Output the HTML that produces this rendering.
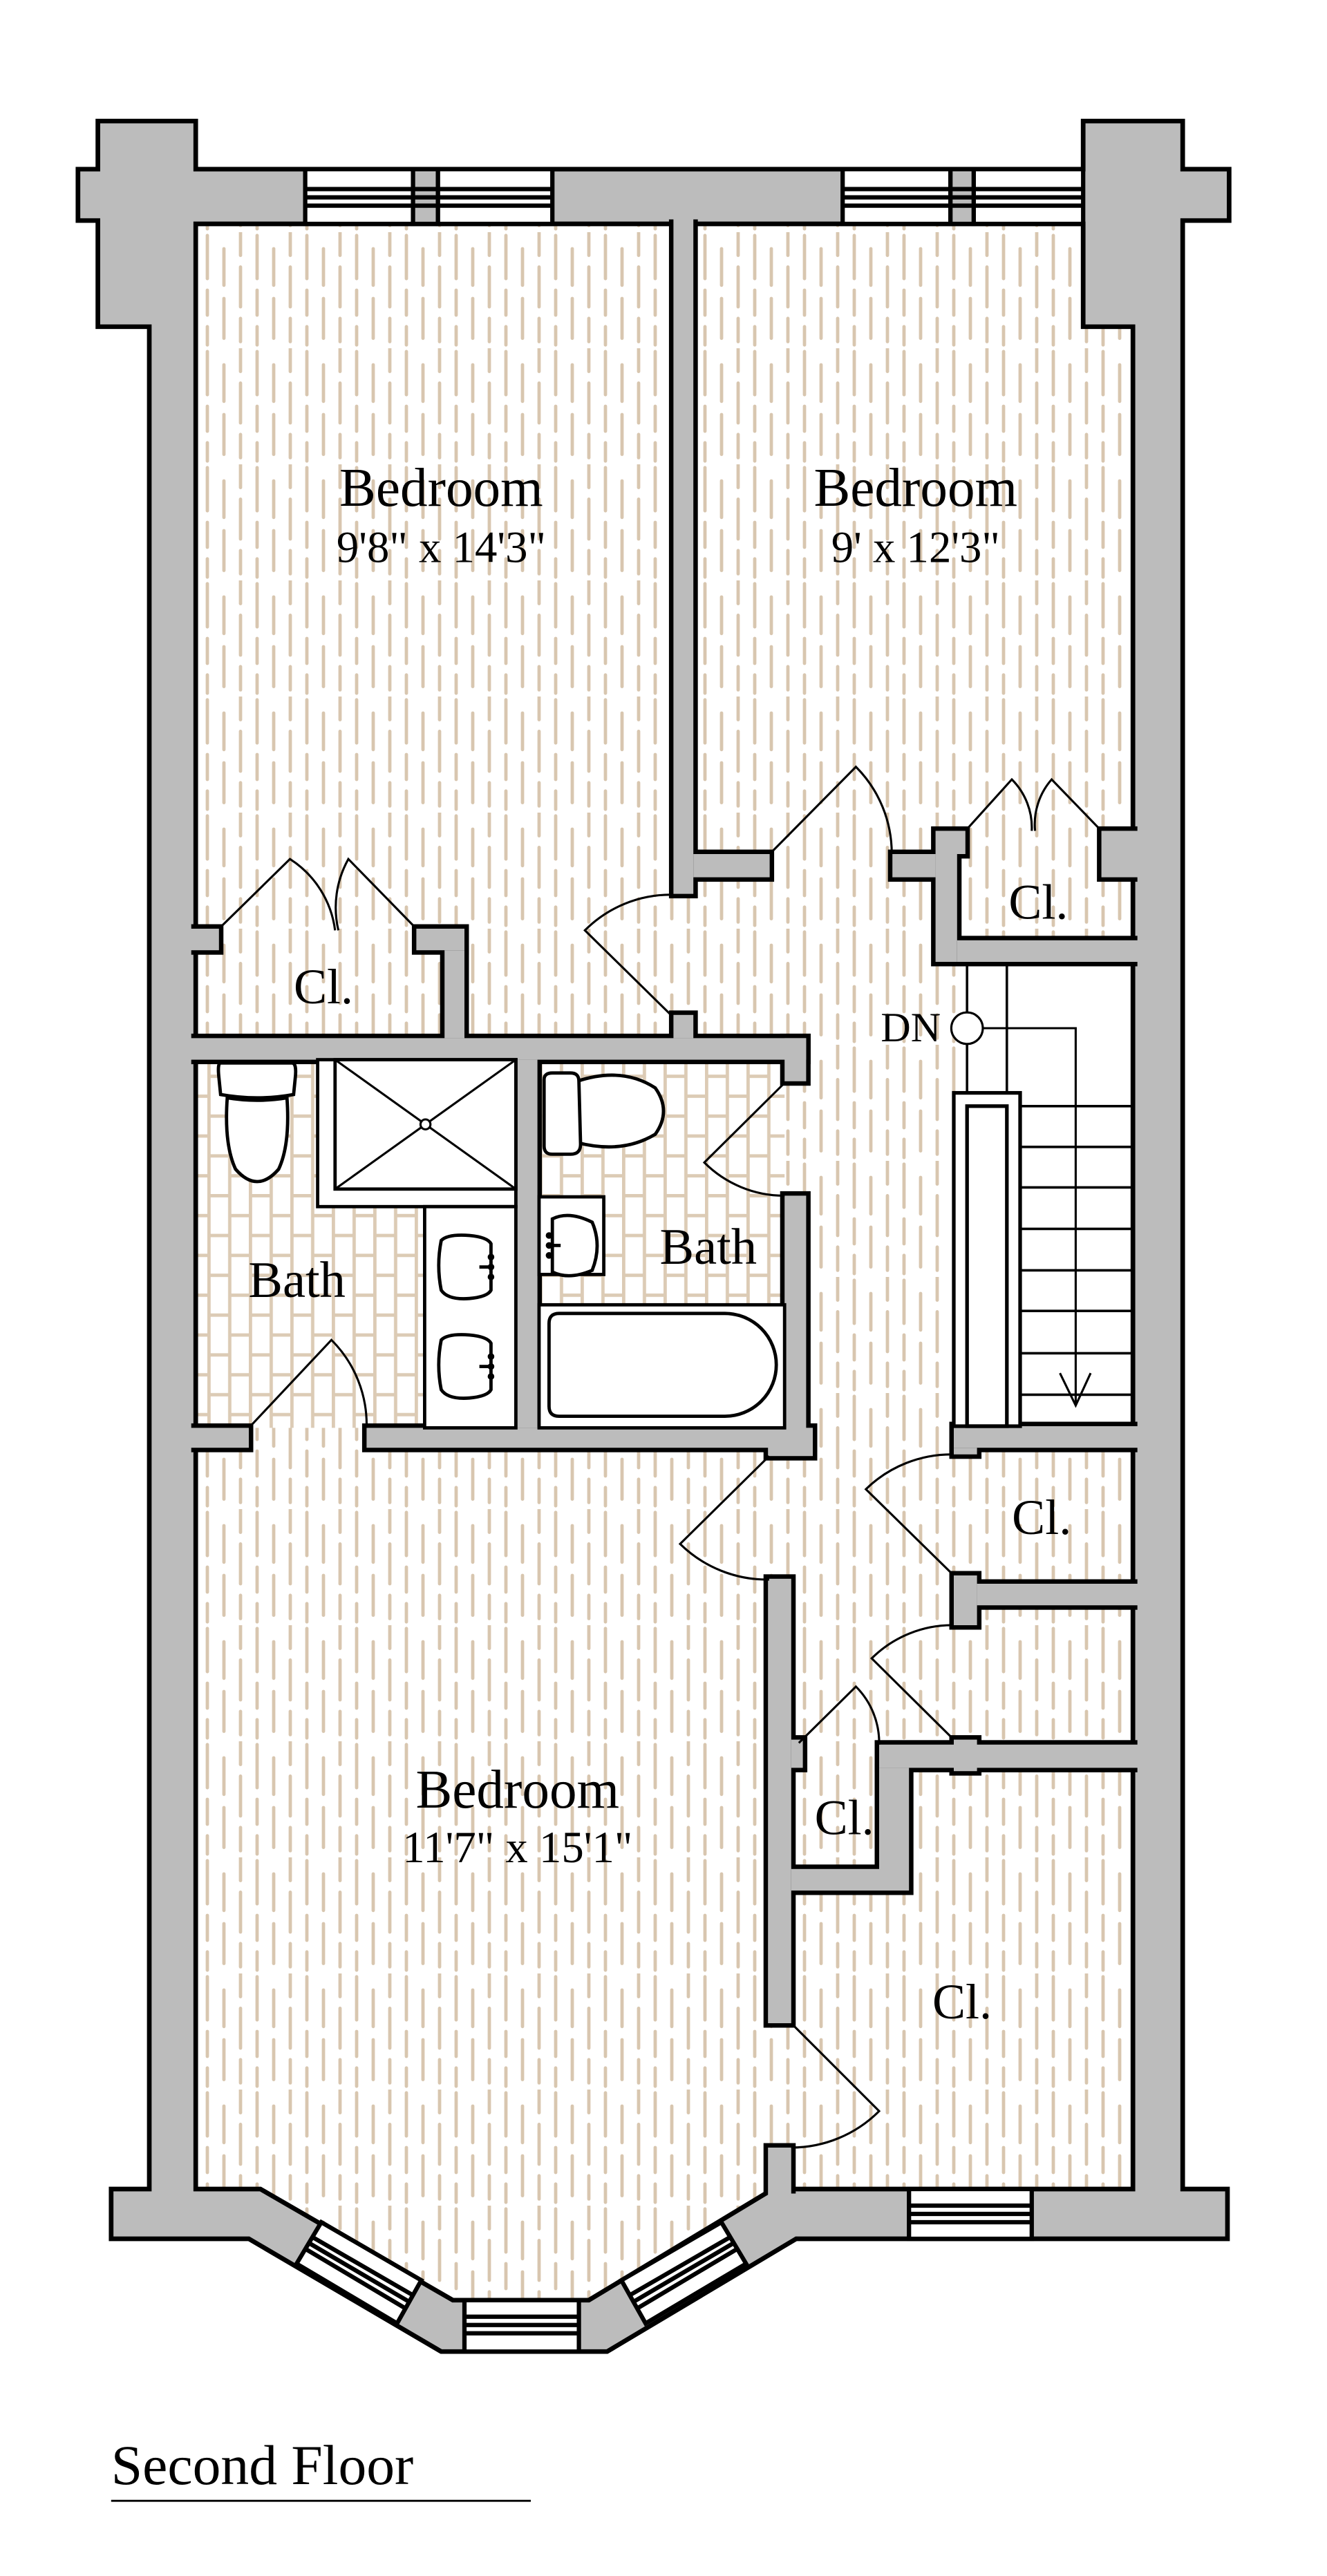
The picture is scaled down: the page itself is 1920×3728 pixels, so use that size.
<!DOCTYPE html>
<html><head><meta charset="utf-8"><style>
html,body{margin:0;padding:0;background:#fff;}
svg{display:block;}
text{font-family:"Liberation Serif",serif;fill:#000;}
</style></head><body>
<svg width="1920" height="3728" viewBox="0 0 800 1553.333" xmlns="http://www.w3.org/2000/svg">
<defs>
<pattern id="fl" width="30" height="70" patternUnits="userSpaceOnUse">
<rect width="30" height="70" fill="#fff"/>
<g stroke="#d8c6af" stroke-width="2" stroke-linecap="round">
<line x1="5" y1="2" x2="5" y2="28"/><line x1="5" y1="35" x2="5" y2="50"/><line x1="5" y1="57" x2="5" y2="68"/>
<line x1="15" y1="10" x2="15" y2="32"/><line x1="15" y1="40" x2="15" y2="64"/>
<line x1="25" y1="0" x2="25" y2="14"/><line x1="25" y1="21" x2="25" y2="45"/><line x1="25" y1="52" x2="25" y2="66"/>
</g></pattern>
<pattern id="tl" width="25" height="48" patternUnits="userSpaceOnUse">
<rect width="25" height="48" fill="#fff"/>
<g stroke="#dccbb5" stroke-width="2">
<line x1="1" y1="0" x2="1" y2="48"/><line x1="13.5" y1="0" x2="13.5" y2="48"/>
<line x1="1" y1="1" x2="13.5" y2="1"/><line x1="1" y1="25" x2="13.5" y2="25"/>
<line x1="13.5" y1="13" x2="26" y2="13"/><line x1="13.5" y1="37" x2="26" y2="37"/>
</g></pattern>
</defs>

<polygon points="59,73 118,73 118,102 653,102 653,73 713,73 713,102 741,102 741,133 713,133 713,1320 740,1320 740,1350 480,1350 366,1418 266,1418 150,1350 67,1350 67,1320 90,1320 90,197 59,197 59,133 47,133 47,102 59,102" fill="#bcbcbc" stroke="#000" stroke-width="2.8" stroke-linejoin="miter"/>
<polygon points="118,135 653,135 653,197 683,197 683,1320 466,1320 355,1387 273,1387 157,1320 118,1320" fill="url(#fl)"/>
<rect x="118" y="639" width="193" height="222" fill="url(#tl)"/>
<rect x="324" y="639" width="149" height="222" fill="url(#tl)"/>
<rect x="583" y="580" width="100" height="280" fill="#fff"/>
<polygon points="118,135 653,135 653,197 683,197 683,1320 466,1320 355,1387 273,1387 157,1320 118,1320" fill="none" stroke="#000" stroke-width="2.8"/>

<g stroke="#000" stroke-width="5.4" fill="none">
<rect x="406" y="135" width="12" height="404"/>
<rect x="418" y="515" width="46" height="14"/>
<rect x="406" y="612" width="12" height="14"/>
<rect x="118" y="626" width="368" height="13"/>
<rect x="473" y="626" width="13" height="26"/>
<rect x="311" y="639" width="13" height="222"/>
<rect x="473" y="721" width="13" height="152"/>
<rect x="118" y="861" width="32" height="12"/>
<rect x="221" y="861" width="269" height="12"/>
<rect x="463" y="861" width="27" height="17"/>
<rect x="118" y="560" width="14" height="13"/>
<rect x="251" y="560" width="29" height="13"/>
<rect x="268" y="573" width="12" height="53"/>
<rect x="538" y="515" width="26" height="14"/>
<rect x="564" y="501" width="18" height="14"/>
<rect x="564" y="515" width="13" height="65"/>
<rect x="577" y="567" width="106" height="13"/>
<rect x="664" y="501" width="19" height="28"/>
<rect x="575" y="860" width="108" height="13"/>
<rect x="575" y="873" width="14" height="4"/>
<rect x="575" y="950" width="14" height="30"/>
<rect x="589" y="955" width="94" height="13"/>
<rect x="575" y="1049" width="14" height="19"/>
<rect x="530" y="1052" width="153" height="14"/>
<rect x="530" y="1066" width="18" height="74"/>
<rect x="477" y="1127" width="53" height="13"/>
<rect x="477" y="1049" width="7" height="17"/>
<rect x="463" y="952" width="14" height="268"/>
<rect x="463" y="1295" width="14" height="25"/>
</g>
<g fill="#bcbcbc">
<rect x="406" y="130" width="12" height="409"/>
<rect x="418" y="515" width="46" height="14"/>
<rect x="406" y="612" width="12" height="14"/>
<rect x="113" y="626" width="373" height="13"/>
<rect x="473" y="626" width="13" height="26"/>
<rect x="311" y="639" width="13" height="222"/>
<rect x="473" y="721" width="13" height="152"/>
<rect x="113" y="861" width="37" height="12"/>
<rect x="221" y="861" width="269" height="12"/>
<rect x="463" y="861" width="27" height="17"/>
<rect x="113" y="560" width="19" height="13"/>
<rect x="251" y="560" width="29" height="13"/>
<rect x="268" y="573" width="12" height="53"/>
<rect x="538" y="515" width="26" height="14"/>
<rect x="564" y="501" width="18" height="14"/>
<rect x="564" y="515" width="13" height="65"/>
<rect x="577" y="567" width="111" height="13"/>
<rect x="664" y="501" width="24" height="28"/>
<rect x="575" y="860" width="113" height="13"/>
<rect x="575" y="873" width="14" height="4"/>
<rect x="575" y="950" width="14" height="30"/>
<rect x="589" y="955" width="99" height="13"/>
<rect x="575" y="1049" width="14" height="19"/>
<rect x="530" y="1052" width="158" height="14"/>
<rect x="530" y="1066" width="18" height="74"/>
<rect x="477" y="1127" width="53" height="13"/>
<rect x="477" y="1049" width="7" height="17"/>
<rect x="463" y="952" width="14" height="268"/>
<rect x="463" y="1295" width="14" height="30"/>
</g>

<g stroke="#000" stroke-width="2.6">
<rect x="184" y="102" width="65" height="33" fill="#fff"/>
<rect x="264" y="102" width="69" height="33" fill="#fff"/>
<rect x="249" y="102" width="15" height="33" fill="#bcbcbc"/>
<rect x="508" y="102" width="65" height="33" fill="#fff"/>
<rect x="587" y="102" width="66" height="33" fill="#fff"/>
<rect x="573" y="102" width="14" height="33" fill="#bcbcbc"/>
<line x1="184" y1="114" x2="333" y2="114"/><line x1="184" y1="119" x2="333" y2="119"/><line x1="184" y1="124" x2="333" y2="124"/>
<line x1="508" y1="114" x2="653" y2="114"/><line x1="508" y1="119" x2="653" y2="119"/><line x1="508" y1="124" x2="653" y2="124"/>
<rect x="548" y="1320" width="74" height="30" fill="#fff"/>
<line x1="548" y1="1330" x2="622" y2="1330"/><line x1="548" y1="1335" x2="622" y2="1335"/><line x1="548" y1="1340" x2="622" y2="1340"/>
<rect x="280" y="1387" width="69" height="31" fill="#fff"/>
<line x1="280" y1="1397" x2="349" y2="1397"/><line x1="280" y1="1402" x2="349" y2="1402"/><line x1="280" y1="1407" x2="349" y2="1407"/>
<polygon points="193.7,1340 254,1375 239.4,1401 178.8,1365" fill="#fff"/>
<line x1="188.4" y1="1349" x2="248.9" y2="1384"/><line x1="186.2" y1="1352.5" x2="246.7" y2="1388"/><line x1="184" y1="1356" x2="244.5" y2="1392"/>
<polygon points="434.9,1340 374.6,1375 389.2,1401 449.8,1365" fill="#fff"/>
<line x1="440.2" y1="1349" x2="379.7" y2="1384"/><line x1="442.4" y1="1352.5" x2="381.9" y2="1388"/><line x1="444.6" y1="1356" x2="384.1" y2="1392"/>
</g>

<g stroke="#000" stroke-width="1.3" fill="none">
<path d="M405,612.5 L352.6,561 A73,73 0 0,1 405,539.5"/>
<path d="M464,515 L516,462.4 A74,74 0 0,1 537.6,515"/>
<path d="M582,501 L610,470 A41,41 0 0,1 622,501"/>
<path d="M664,501 L634,470 A41,41 0 0,0 624,501"/>
<path d="M132,560 L174.8,518 A60,60 0 0,1 202,561"/>
<path d="M251,560 L210,518 A60,60 0 0,0 204,561"/>
<path d="M473,653 L424.6,701 A68,68 0 0,0 473,721"/>
<path d="M150,861 L199.8,808 A72,72 0 0,1 221,861"/>
<path d="M463.7,878 L410,931 A75,75 0 0,0 463.7,952.5"/>
<path d="M575,950 L522,898 A74,74 0 0,1 575,877"/>
<path d="M575,1049 L525.5,1000 A69,69 0 0,1 575,980"/>
<path d="M481.6,1051 L516,1017 A48,48 0 0,1 530,1052"/>
<path d="M477,1220 L530,1273 A75,75 0 0,1 477,1295"/>
</g>

<g stroke="#000" fill="none">
<line x1="583" y1="580" x2="583" y2="659" stroke-width="1.5"/>
<line x1="607" y1="580" x2="607" y2="667" stroke-width="1.5"/>
<rect x="575" y="659" width="40" height="201" fill="#fff" stroke-width="2.2"/>
<rect x="583" y="667" width="24" height="193" stroke-width="2.2"/>
<g stroke-width="1.5">
<line x1="615" y1="667" x2="683" y2="667"/><line x1="615" y1="691.6" x2="683" y2="691.6"/>
<line x1="615" y1="716" x2="683" y2="716"/><line x1="615" y1="741" x2="683" y2="741"/>
<line x1="615" y1="766" x2="683" y2="766"/><line x1="615" y1="790.5" x2="683" y2="790.5"/>
<line x1="615" y1="816" x2="683" y2="816"/><line x1="615" y1="841" x2="683" y2="841"/>
</g>
<circle cx="583" cy="620" r="9.5" fill="#fff" stroke-width="1.3"/>
<path d="M592.5,620 H648.5 V847.5 M639,828 L648.5,847.5 L657.5,828" stroke-width="1.3"/>
</g>

<g stroke="#000" stroke-width="2" fill="#fff">
<path d="M133,641 H176 Q179,641 178,650 L177,660 Q155,664 133,660 L132,650 Q131,641 133,641 Z"/>
<path d="M137,662 Q155,665 173,662 Q175,690 168,705 Q155,720 142,705 Q135,690 137,662 Z"/>
<rect x="191.5" y="639" width="119.5" height="88.6"/>
<rect x="202" y="639" width="109" height="78"/>
<rect x="256" y="727.6" width="55" height="133.4"/>
<path d="M266,748 Q270,744 283,745 Q294,746 296,750 L296,778 Q294,782 283,783 Q270,784 266,778 Q263,763 266,748 Z"/>
<path d="M266,808 Q270,804 283,805 Q294,806 296,810 L296,838 Q294,842 283,843 Q270,844 266,838 Q263,823 266,808 Z"/>
<path d="M348,652 Q375,643 395,656 Q405,670 395,684 Q375,696 348,689 Z"/>
<path d="M328,651 Q328,647 333,647 H344 Q349,647 349,652 L350,690 Q350,696 344,696 H333 Q328,696 328,691 Z"/>
<rect x="325" y="721.7" width="39" height="46.8"/>
<path d="M333,735 Q343,730 357,737 Q363,751 357,766 Q343,772 333,767 Z"/>
<rect x="325" y="786.8" width="148" height="74.2"/>
<path d="M337,792 H437 A31,31 0 0,1 437,854 H337 Q331,854 331,848 V798 Q331,792 337,792 Z"/>
</g>
<g stroke="#000" stroke-width="1.3">
<line x1="202" y1="639" x2="311" y2="717"/><line x1="311" y1="639" x2="202" y2="717"/>
</g>
<circle cx="256.5" cy="678" r="3" fill="#fff" stroke="#000" stroke-width="1.3"/>
<g fill="#000">
<circle cx="296" cy="758" r="2"/><circle cx="296" cy="764" r="2"/><circle cx="296" cy="770" r="2"/>
<rect x="289" y="763" width="7" height="2"/>
<circle cx="296" cy="818" r="2"/><circle cx="296" cy="824" r="2"/><circle cx="296" cy="830" r="2"/>
<rect x="289" y="823" width="7" height="2"/>
<circle cx="331" cy="745" r="2"/><circle cx="331" cy="751" r="2"/><circle cx="331" cy="757" r="2"/>
<rect x="331" y="750" width="7" height="2"/>
</g>

<g font-size="33" text-anchor="middle">
<text x="266" y="305">Bedroom</text>
<text x="552" y="305">Bedroom</text>
<text x="312" y="1090">Bedroom</text>
</g>
<g font-size="27" text-anchor="middle">
<text x="266" y="339">9'8" x 14'3"</text>
<text x="552" y="339">9' x 12'3"</text>
<text x="312" y="1123">11'7" x 15'1"</text>
</g>
<g font-size="31" text-anchor="middle">
<text x="179" y="782">Bath</text>
<text x="427" y="762">Bath</text>
</g>
<g font-size="30" text-anchor="middle">
<text x="195" y="605">Cl.</text>
<text x="626" y="554">Cl.</text>
<text x="628" y="925">Cl.</text>
<text x="509" y="1106">Cl.</text>
<text x="580" y="1217">Cl.</text>
</g>
<text x="531" y="628" font-size="25">DN</text>
<text x="67" y="1498" font-size="34">Second Floor</text>
<line x1="67" y1="1508" x2="320" y2="1508" stroke="#000" stroke-width="1.2"/>
</svg>
</body></html>
